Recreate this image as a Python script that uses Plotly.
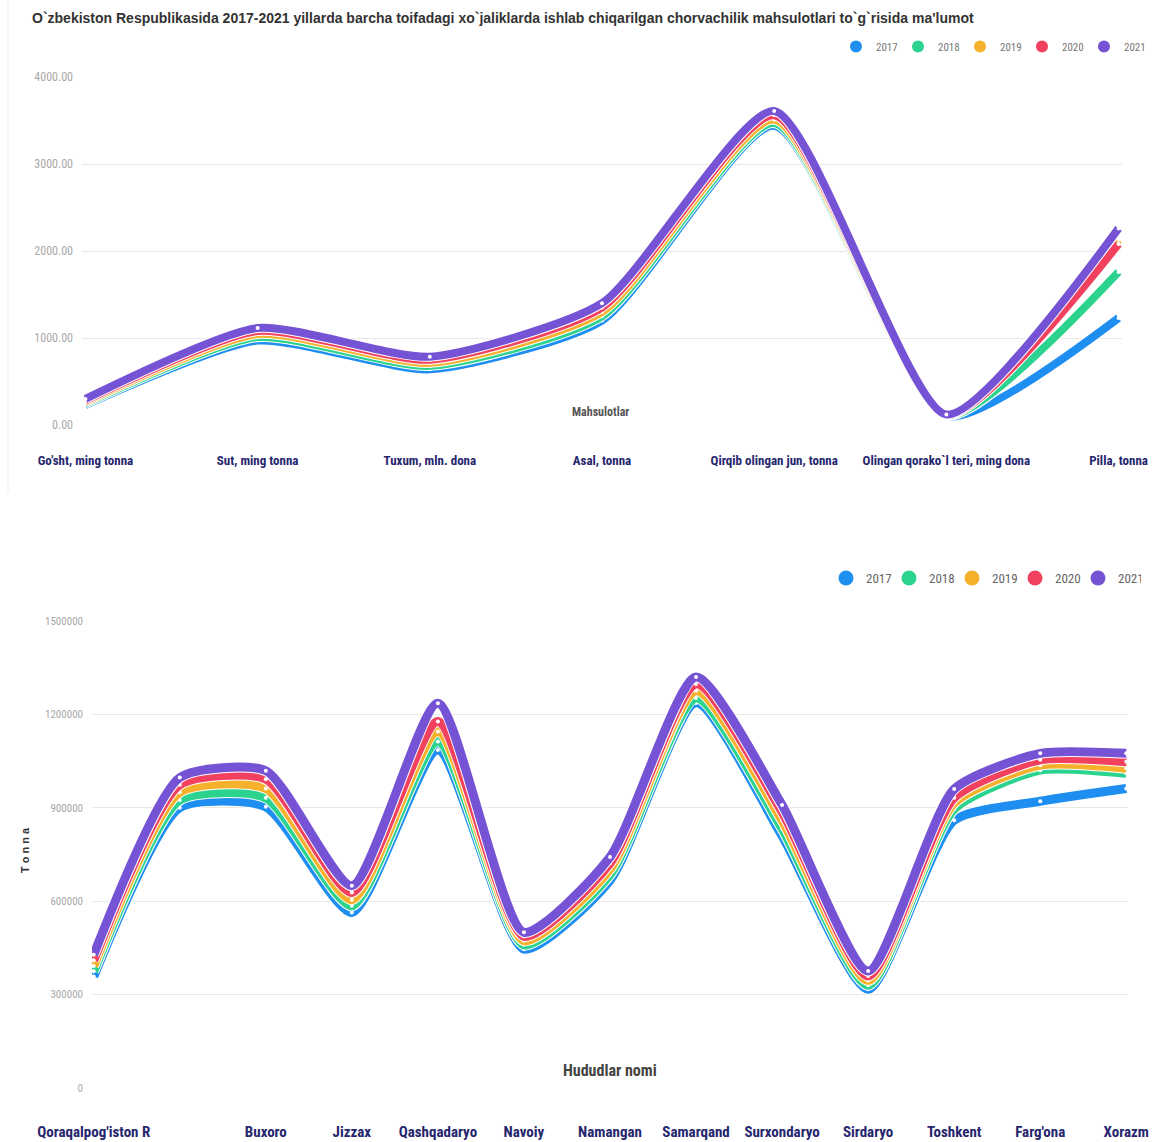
import plotly.graph_objects as go

# ---------------- data ----------------
years = ["2017", "2018", "2019", "2020", "2021"]
colors = ["#1f8ef1", "#2bd38e", "#f5b12c", "#f2415f", "#7653d4"]

products = ["Go'sht, ming tonna", "Sut, ming tonna", "Tuxum, mln. dona", "Asal, tonna",
            "Qirqib olingan jun, tonna", "Olingan qorako`l teri, ming dona", "Pilla, tonna"]
prod_2017 = [230, 970, 640, 1200, 3440, 100, 1230]
prod_2018 = [245, 1010, 680, 1250, 3470, 105, 1760]
prod_2019 = [262, 1045, 715, 1300, 3510, 110, 2130]
prod_2020 = [280, 1080, 750, 1350, 3560, 115, 2080]
prod_2021 = [300, 1115, 785, 1400, 3610, 120, 2260]
prod_ticks = [0, 1000, 2000, 3000, 4000]

regions = ["Qoraqalpog'iston R", "Andijon", "Buxoro", "Jizzax", "Qashqadaryo", "Navoiy",
           "Namangan", "Samarqand", "Surxondaryo", "Sirdaryo", "Toshkent", "Farg'ona", "Xorazm"]
region_labels = ["Qoraqalpog'iston R", "", "Buxoro", "Jizzax", "Qashqadaryo", "Navoiy",
                 "Namangan", "Samarqand", "Surxondaryo", "Sirdaryo", "Toshkent", "Farg'ona", "Xorazm"]
reg_2017 = [358000, 900000, 903000, 564000, 1086000, 446000, 667000, 1237000, 810000, 317000, 860000, 921000, 962000]
reg_2018 = [375000, 925000, 932000, 585000, 1113000, 460000, 685000, 1253000, 833000, 330000, 896000, 1021000, 1011000]
reg_2019 = [392000, 950000, 962000, 605000, 1145000, 473000, 703000, 1276000, 860000, 345000, 915000, 1037000, 1027000]
reg_2020 = [410000, 974000, 992000, 628000, 1177000, 487000, 722000, 1298000, 887000, 360000, 932000, 1054000, 1048000]
reg_2021 = [428000, 997000, 1019000, 650000, 1236000, 500000, 742000, 1320000, 909000, 376000, 960000, 1075000, 1075000]
reg_ticks = [0, 300000, 600000, 900000, 1200000, 1500000]

title_text = ("O`zbekiston Respublikasida 2017-2021 yillarda barcha toifadagi xo`jaliklarda "
              "ishlab chiqarilgan chorvachilik mahsulotlari to`g`risida ma'lumot")

prod_series = [prod_2017, prod_2018, prod_2019, prod_2020, prod_2021]
reg_series = [reg_2017, reg_2018, reg_2019, reg_2020, reg_2021]

W, H = 1156, 1142
NARROW = "Liberation Sans Narrow, Arial Narrow, Roboto Condensed, Arial, sans-serif"
SMOOTH = 0.6

fig = go.Figure()

# top chart
for yr, col, vals in zip(years, colors, prod_series):
    fig.add_trace(go.Scatter(
        x=list(range(len(products))), y=vals, xaxis="x", yaxis="y",
        mode="lines", line=dict(color="white", width=10, shape="spline", smoothing=SMOOTH),
        showlegend=False, hoverinfo="skip"))
    fig.add_trace(go.Scatter(
        x=list(range(len(products))), y=vals, xaxis="x", yaxis="y",
        mode="lines+markers", line=dict(color=col, width=8, shape="spline", smoothing=SMOOTH),
        marker=dict(color="white", size=4), showlegend=False, name=yr))
    fig.add_trace(go.Scatter(x=[None], y=[None], xaxis="x", yaxis="y", mode="markers",
                             marker=dict(color=col, size=12, symbol="circle"),
                             name=yr, legend="legend", showlegend=True))

# bottom chart
for yr, col, vals in zip(years, colors, reg_series):
    fig.add_trace(go.Scatter(
        x=list(range(len(regions))), y=vals, xaxis="x2", yaxis="y2",
        mode="lines", line=dict(color="white", width=11, shape="spline", smoothing=SMOOTH),
        showlegend=False, hoverinfo="skip"))
    fig.add_trace(go.Scatter(
        x=list(range(len(regions))), y=vals, xaxis="x2", yaxis="y2",
        mode="lines+markers", line=dict(color=col, width=9, shape="spline", smoothing=SMOOTH),
        marker=dict(color="white", size=4), showlegend=False, name=yr))
    fig.add_trace(go.Scatter(x=[None], y=[None], xaxis="x2", yaxis="y2", mode="markers",
                             marker=dict(color=col, size=15, symbol="circle"),
                             name=yr, legend="legend2", showlegend=True))


def px_x(p):
    return p / W


def px_y(p):
    return 1 - p / H


fig.update_layout(
    width=W, height=H, margin=dict(l=0, r=0, t=0, b=0, autoexpand=False),
    paper_bgcolor="white", plot_bgcolor="white",
    font=dict(family="Liberation Sans, Arial, sans-serif"),
    xaxis=dict(domain=[px_x(82), px_x(1122)], range=[-0.02, 6.02], automargin=False,
               tickmode="array", tickvals=list(range(len(products))), ticktext=products,
               showgrid=False, zeroline=False, showline=False, ticks="",
               tickfont=dict(family=NARROW, size=13, color="#26266e", weight="bold"),
               ticklabelstandoff=26, anchor="y"),
    yaxis=dict(domain=[px_y(425), px_y(77)], range=[0, 4000], tickvals=prod_ticks,
               automargin=False,
               tickformat=".2f", showgrid=True, gridcolor="#e8e8e8", gridwidth=1,
               zeroline=False, showline=False, ticks="",
               tickfont=dict(family=NARROW, size=12, color="#a8a8a8"),
               ticklabelstandoff=8, anchor="x"),
    xaxis2=dict(domain=[px_x(92), px_x(1128)], range=[-0.02, 12.02], automargin=False,
                tickmode="array", tickvals=list(range(len(regions))), ticktext=region_labels,
                showgrid=False, zeroline=False, showline=False, ticks="",
                tickfont=dict(family=NARROW, size=15, color="#26266e", weight="bold"),
                ticklabelstandoff=33, anchor="y2"),
    yaxis2=dict(domain=[px_y(1088), px_y(621)], range=[0, 1500000], tickvals=reg_ticks,
                automargin=False,
                tickformat="d", showgrid=True, gridcolor="#e8e8e8", gridwidth=1,
                zeroline=False, showline=False, ticks="",
                tickfont=dict(family=NARROW, size=11, color="#a8a8a8"),
                ticklabelstandoff=8, anchor="x2"),
    legend=dict(orientation="h", x=px_x(836), xanchor="left", y=px_y(32), yanchor="top",
                font=dict(family=NARROW, size=11, color="#777"), itemwidth=30,
                entrywidth=17, entrywidthmode="pixels", bgcolor="rgba(0,0,0,0)"),
    legend2=dict(orientation="h", x=px_x(826), xanchor="left", y=px_y(563), yanchor="top",
                 font=dict(family=NARROW, size=13, color="#666"), itemwidth=30,
                 entrywidth=18, entrywidthmode="pixels", bgcolor="rgba(0,0,0,0)"),
    annotations=[
        dict(text=title_text, x=px_x(30), y=px_y(18), xref="paper", yref="paper",
             xanchor="left", yanchor="middle", showarrow=False,
             font=dict(size=14, color="#333", weight="bold")),
        dict(text="Mahsulotlar", x=px_x(600), y=px_y(412), xref="paper", yref="paper",
             xanchor="center", yanchor="middle", showarrow=False,
             font=dict(family=NARROW, size=12, color="#555", weight="bold")),
        dict(text="Hududlar nomi", x=px_x(610), y=px_y(1070), xref="paper", yref="paper",
             xanchor="center", yanchor="middle", showarrow=False,
             font=dict(family=NARROW, size=16, color="#444", weight="bold")),
        dict(text="T o n n a", x=px_x(25), y=px_y(850), xref="paper", yref="paper",
             xanchor="center", yanchor="middle", showarrow=False, textangle=-90,
             font=dict(size=11, color="#333", weight="bold")),
    ],
    shapes=[
        dict(type="line", xref="paper", yref="paper", x0=px_x(8), x1=px_x(8),
             y0=px_y(0), y1=px_y(492), line=dict(color="#ececec", width=1)),
    ],
)

fig.write_html("out.html", post_script="document.body.style.margin='0';",
               config={"displayModeBar": False})
